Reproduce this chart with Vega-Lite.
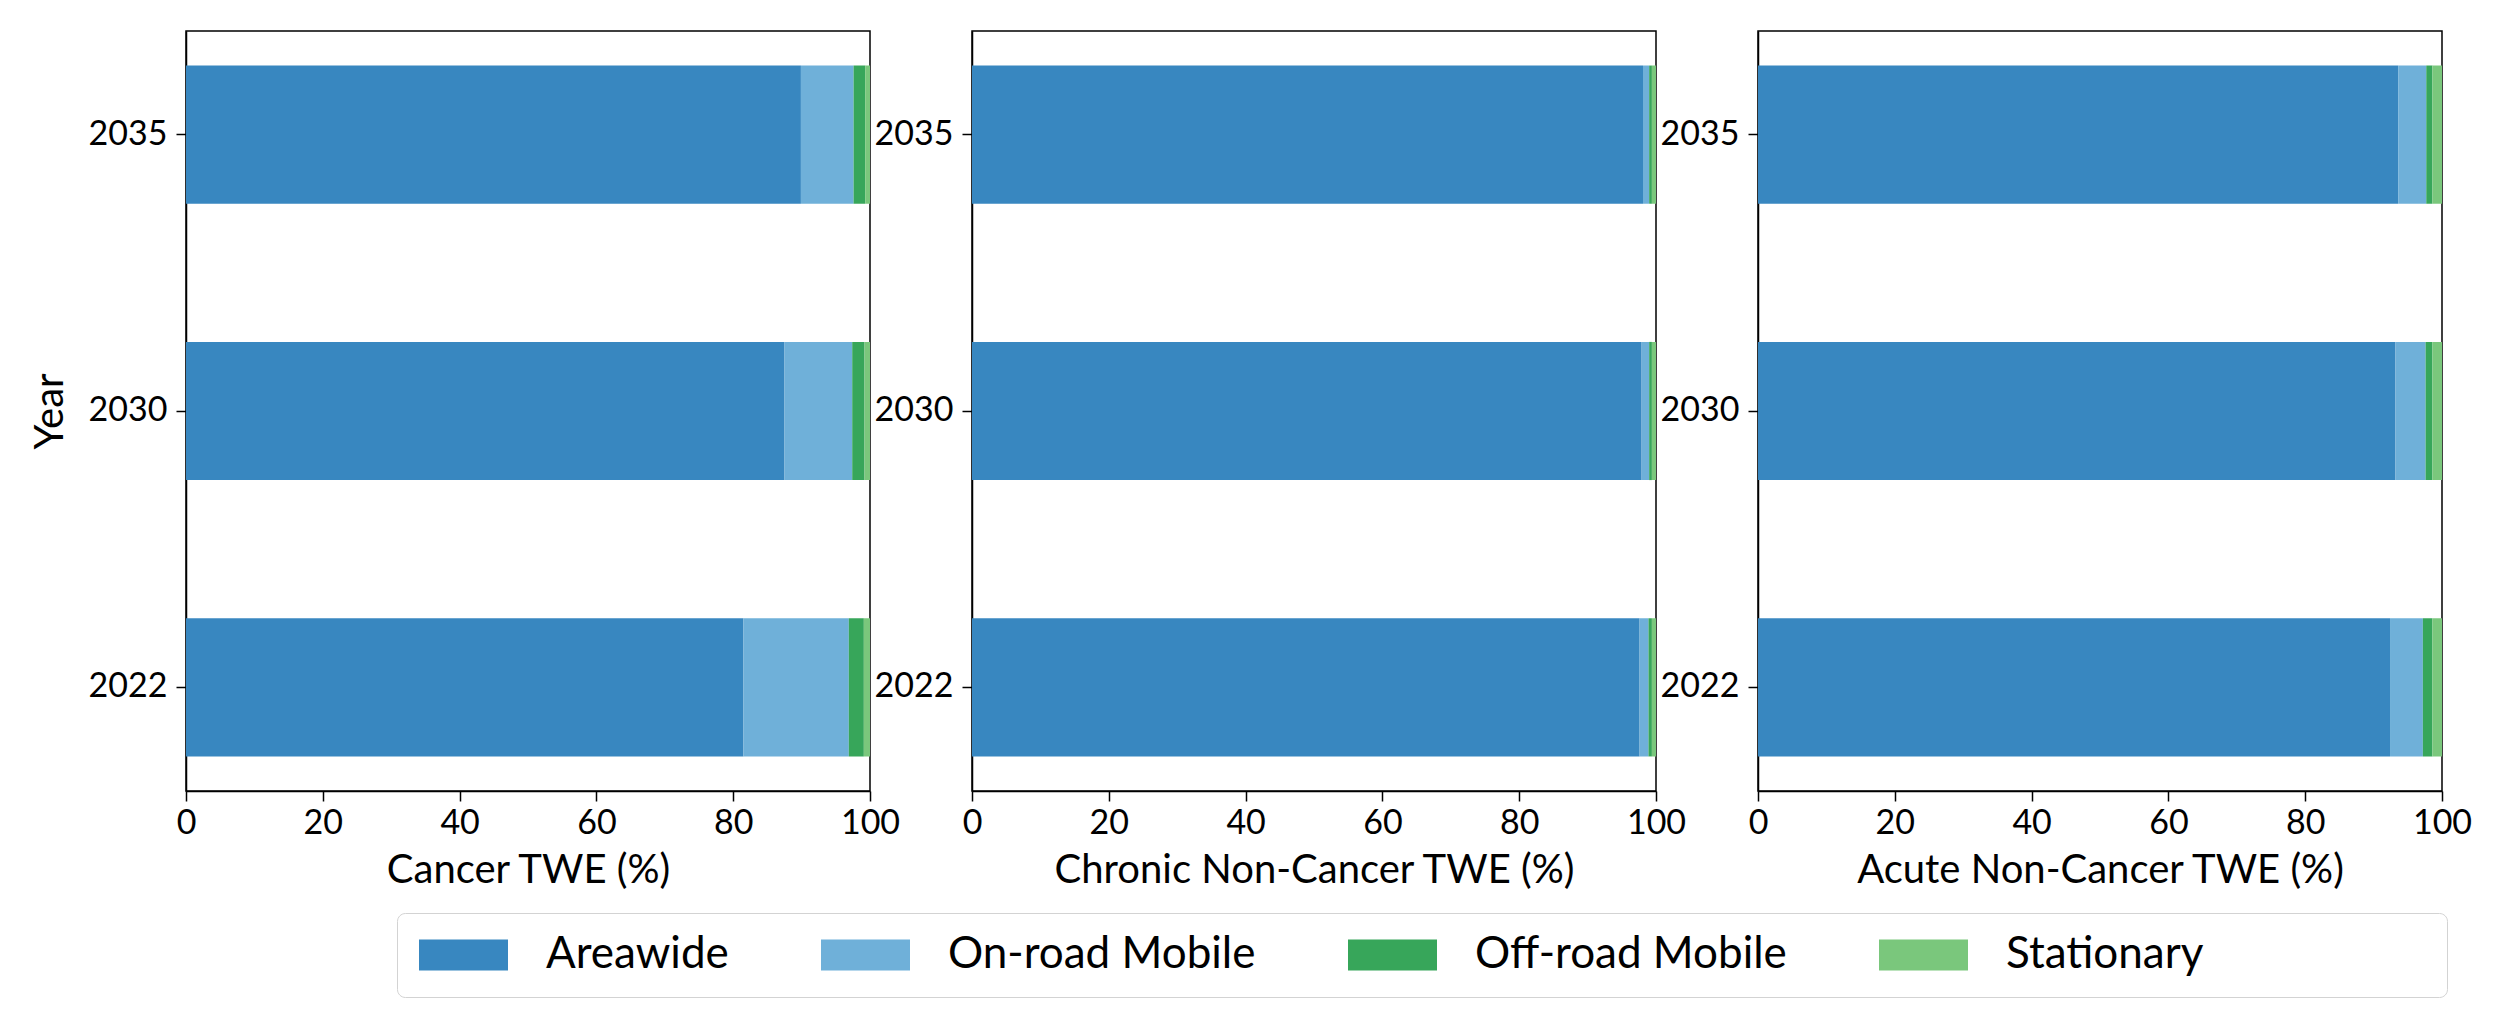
{
  "$schema": "https://vega.github.io/schema/vega-lite/v6.json",
  "padding": {"left": 29, "top": 30, "right": 5, "bottom": 5},
  "background": "white",
  "bounds": "flush",
  "datasets": {
    "d": [
      {"metric": "Cancer", "year": 2035, "source": "Areawide", "value": 89.9},
      {"metric": "Cancer", "year": 2035, "source": "On-road Mobile", "value": 7.7},
      {"metric": "Cancer", "year": 2035, "source": "Off-road Mobile", "value": 1.7},
      {"metric": "Cancer", "year": 2035, "source": "Stationary", "value": 0.7},
      {"metric": "Cancer", "year": 2030, "source": "Areawide", "value": 87.5},
      {"metric": "Cancer", "year": 2030, "source": "On-road Mobile", "value": 9.9},
      {"metric": "Cancer", "year": 2030, "source": "Off-road Mobile", "value": 1.8},
      {"metric": "Cancer", "year": 2030, "source": "Stationary", "value": 0.8},
      {"metric": "Cancer", "year": 2022, "source": "Areawide", "value": 81.5},
      {"metric": "Cancer", "year": 2022, "source": "On-road Mobile", "value": 15.4},
      {"metric": "Cancer", "year": 2022, "source": "Off-road Mobile", "value": 2.2},
      {"metric": "Cancer", "year": 2022, "source": "Stationary", "value": 0.9},
      {"metric": "Chronic", "year": 2035, "source": "Areawide", "value": 98.1},
      {"metric": "Chronic", "year": 2035, "source": "On-road Mobile", "value": 0.9},
      {"metric": "Chronic", "year": 2035, "source": "Off-road Mobile", "value": 0.4},
      {"metric": "Chronic", "year": 2035, "source": "Stationary", "value": 0.6},
      {"metric": "Chronic", "year": 2030, "source": "Areawide", "value": 97.9},
      {"metric": "Chronic", "year": 2030, "source": "On-road Mobile", "value": 1.1},
      {"metric": "Chronic", "year": 2030, "source": "Off-road Mobile", "value": 0.4},
      {"metric": "Chronic", "year": 2030, "source": "Stationary", "value": 0.6},
      {"metric": "Chronic", "year": 2022, "source": "Areawide", "value": 97.6},
      {"metric": "Chronic", "year": 2022, "source": "On-road Mobile", "value": 1.3},
      {"metric": "Chronic", "year": 2022, "source": "Off-road Mobile", "value": 0.5},
      {"metric": "Chronic", "year": 2022, "source": "Stationary", "value": 0.6},
      {"metric": "Acute", "year": 2035, "source": "Areawide", "value": 93.6},
      {"metric": "Acute", "year": 2035, "source": "On-road Mobile", "value": 4.1},
      {"metric": "Acute", "year": 2035, "source": "Off-road Mobile", "value": 0.9},
      {"metric": "Acute", "year": 2035, "source": "Stationary", "value": 1.4},
      {"metric": "Acute", "year": 2030, "source": "Areawide", "value": 93.2},
      {"metric": "Acute", "year": 2030, "source": "On-road Mobile", "value": 4.4},
      {"metric": "Acute", "year": 2030, "source": "Off-road Mobile", "value": 1.0},
      {"metric": "Acute", "year": 2030, "source": "Stationary", "value": 1.4},
      {"metric": "Acute", "year": 2022, "source": "Areawide", "value": 92.4},
      {"metric": "Acute", "year": 2022, "source": "On-road Mobile", "value": 4.8},
      {"metric": "Acute", "year": 2022, "source": "Off-road Mobile", "value": 1.4},
      {"metric": "Acute", "year": 2022, "source": "Stationary", "value": 1.4}
    ]
  },
  "data": {"name": "d"},
  "transform": [
    {"calculate": "indexof(['Areawide','On-road Mobile','Off-road Mobile','Stationary'], datum.source)", "as": "k"}
  ],
  "spacing": 102,
  "hconcat": [
    {
      "width": 684, "height": 760,
      "transform": [{"filter": "datum.metric === 'Cancer'"}],
      "mark": {"type": "bar"},
      "encoding": {
        "y": {"field": "year", "type": "ordinal", "sort": "descending",
              "scale": {"paddingInner": 0.5, "paddingOuter": 0.125},
              "axis": {"title": "Year"}},
        "x": {"field": "value", "type": "quantitative", "stack": "zero",
              "scale": {"domain": [0, 100], "nice": false},
              "axis": {"title": "Cancer TWE (%)", "values": [0, 20, 40, 60, 80, 100]}},
        "color": {"field": "source", "type": "nominal",
                  "scale": {"domain": ["Areawide", "On-road Mobile", "Off-road Mobile", "Stationary"],
                            "range": ["#3887c0", "#6fb0d9", "#37a65a", "#7ac77c"]},
                  "legend": {"orient": "none", "legendX": 211, "legendY": 882, "direction": "horizontal", "columns": 4,
                             "title": " ", "titleOrient": "right", "titlePadding": 224, "titleFontSize": 10}},
        "order": {"field": "k", "type": "quantitative"}
      }
    },
    {
      "width": 684, "height": 760,
      "transform": [{"filter": "datum.metric === 'Chronic'"}],
      "mark": {"type": "bar"},
      "encoding": {
        "y": {"field": "year", "type": "ordinal", "sort": "descending",
              "scale": {"paddingInner": 0.5, "paddingOuter": 0.125},
              "axis": {"title": null}},
        "x": {"field": "value", "type": "quantitative", "stack": "zero",
              "scale": {"domain": [0, 100], "nice": false},
              "axis": {"title": "Chronic Non-Cancer TWE (%)", "values": [0, 20, 40, 60, 80, 100]}},
        "color": {"field": "source", "type": "nominal"},
        "order": {"field": "k", "type": "quantitative"}
      }
    },
    {
      "width": 684, "height": 760,
      "transform": [{"filter": "datum.metric === 'Acute'"}],
      "mark": {"type": "bar"},
      "encoding": {
        "y": {"field": "year", "type": "ordinal", "sort": "descending",
              "scale": {"paddingInner": 0.5, "paddingOuter": 0.125},
              "axis": {"title": null}},
        "x": {"field": "value", "type": "quantitative", "stack": "zero",
              "scale": {"domain": [0, 100], "nice": false},
              "axis": {"title": "Acute Non-Cancer TWE (%)", "values": [0, 20, 40, 60, 80, 100]}},
        "color": {"field": "source", "type": "nominal"},
        "order": {"field": "k", "type": "quantitative"}
      }
    }
  ],
  "config": {
    "view": {"stroke": "black", "strokeWidth": 1.5},
    "font": "Lato",
    "axis": {
      "labelFont": "Lato", "titleFont": "Lato",
      "labelFontSize": 34, "titleFontSize": 40, "titleFontWeight": "normal",
      "labelColor": "black", "titleColor": "black",
      "tickColor": "black", "domainColor": "black",
      "tickSize": 10, "tickWidth": 1.5, "domainWidth": 1.5,
      "grid": false, "labelFlush": false
    },
    "axisX": {"labelPadding": 5, "titlePadding": 10},
    "axisY": {"labelPadding": 9, "titlePadding": 18},
    "legend": {
      "labelFont": "Lato", "labelFontSize": 44, "labelColor": "black",
      "symbolType": "M-1,-0.775L3.45,-0.775L3.45,0.775L-1,0.775Z",
      "symbolSize": 1600, "symbolStrokeWidth": 0, "symbolOpacity": 1,
      "labelOffset": 85, "columnPadding": 90, "padding": 20,
      "strokeColor": "#d3d3d3", "cornerRadius": 8, "fillColor": "white",
      "labelLimit": 600
    }
  }
}
